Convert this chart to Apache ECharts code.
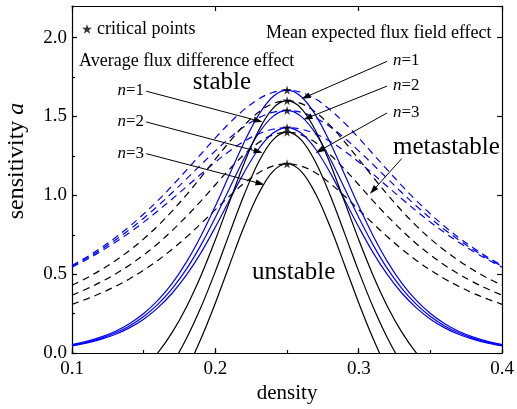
<!DOCTYPE html>
<html>
<head>
<meta charset="utf-8">
<script src="https://cdn.jsdelivr.net/npm/echarts@6/dist/echarts.min.js"></script>
<style>
html,body{margin:0;padding:0;background:#fff;}
#chart{width:517px;height:409px;}
</style>
</head>
<body>
<div id="chart"></div>
<script>
// density grid
var density = [0.10,0.11,0.12,0.13,0.14,0.15,0.16,0.17,0.18,0.19,0.20,0.21,0.22,0.23,0.24,0.25,0.26,0.27,0.28,0.29,0.30,0.31,0.32,0.33,0.34,0.35,0.36,0.37,0.38,0.39,0.40];

// Average flux difference effect (blue): neutral stability (solid) and coexistence (dashed)
var blueSolidN1 = [0.054,0.074,0.101,0.137,0.186,0.251,0.336,0.444,0.580,0.744,0.932,1.135,1.335,1.507,1.625,1.667,1.625,1.507,1.335,1.135,0.932,0.744,0.580,0.444,0.336,0.251,0.186,0.137,0.101,0.074,0.054];
var blueSolidN2 = [0.050,0.068,0.093,0.127,0.172,0.232,0.310,0.410,0.535,0.686,0.860,1.047,1.232,1.391,1.499,1.538,1.499,1.391,1.232,1.047,0.860,0.686,0.535,0.410,0.310,0.232,0.172,0.127,0.093,0.068,0.050];
var blueSolidN3 = [0.046,0.063,0.087,0.118,0.160,0.215,0.288,0.381,0.497,0.637,0.799,0.973,1.144,1.292,1.393,1.429,1.393,1.292,1.144,0.973,0.799,0.637,0.497,0.381,0.288,0.215,0.160,0.118,0.087,0.063,0.046];
var blueDashN1 = [0.555,0.607,0.666,0.730,0.802,0.882,0.968,1.062,1.161,1.262,1.364,1.459,1.543,1.610,1.652,1.667,1.652,1.610,1.543,1.459,1.364,1.262,1.161,1.062,0.968,0.882,0.802,0.730,0.666,0.607,0.555];
var blueDashN2 = [0.550,0.600,0.655,0.716,0.782,0.855,0.934,1.018,1.106,1.195,1.282,1.364,1.435,1.490,1.526,1.538,1.526,1.490,1.435,1.364,1.282,1.195,1.106,1.018,0.934,0.855,0.782,0.716,0.655,0.600,0.550];
var blueDashN3 = [0.545,0.592,0.644,0.701,0.763,0.830,0.902,0.978,1.056,1.135,1.211,1.281,1.342,1.389,1.419,1.429,1.419,1.389,1.342,1.281,1.211,1.135,1.056,0.978,0.902,0.830,0.763,0.701,0.644,0.592,0.545];

// Mean expected flux field effect (black)
var blackSolidN1 = [-0.335,-0.311,-0.279,-0.235,-0.177,-0.099,0.003,0.133,0.296,0.492,0.718,0.962,1.202,1.408,1.550,1.600,1.550,1.408,1.202,0.962,0.718,0.492,0.296,0.133,0.003,-0.099,-0.177,-0.235,-0.279,-0.311,-0.335];
var blackSolidN2 = [-0.535,-0.511,-0.479,-0.435,-0.377,-0.299,-0.197,-0.067,0.096,0.292,0.518,0.762,1.002,1.208,1.350,1.400,1.350,1.208,1.002,0.762,0.518,0.292,0.096,-0.067,-0.197,-0.299,-0.377,-0.435,-0.479,-0.511,-0.535];
var blackSolidN3 = [-0.735,-0.711,-0.679,-0.635,-0.577,-0.499,-0.397,-0.267,-0.104,0.092,0.318,0.562,0.802,1.008,1.150,1.200,1.150,1.008,0.802,0.562,0.318,0.092,-0.104,-0.267,-0.397,-0.499,-0.577,-0.635,-0.679,-0.711,-0.735];
var blackDashN1 = [0.430,0.475,0.526,0.584,0.650,0.724,0.808,0.902,1.005,1.115,1.229,1.341,1.443,1.526,1.581,1.600,1.581,1.526,1.443,1.341,1.229,1.115,1.005,0.902,0.808,0.724,0.650,0.584,0.526,0.475,0.430];
var blackDashN2 = [0.367,0.406,0.450,0.500,0.557,0.622,0.695,0.778,0.868,0.965,1.067,1.167,1.258,1.333,1.383,1.400,1.383,1.333,1.258,1.167,1.067,0.965,0.868,0.778,0.695,0.622,0.557,0.500,0.450,0.406,0.367];
var blackDashN3 = [0.309,0.342,0.379,0.422,0.470,0.526,0.589,0.659,0.737,0.821,0.909,0.996,1.076,1.142,1.185,1.200,1.185,1.142,1.076,0.996,0.909,0.821,0.737,0.659,0.589,0.526,0.470,0.422,0.379,0.342,0.309];

// critical points
var criticalX = [0.25,0.25,0.25,0.25,0.25,0.25];
var criticalY = [1.667,1.600,1.538,1.429,1.400,1.200];

var FONT = "'Liberation Serif','Times New Roman',serif";
var STAR = 'path://M50,0 L61.2,34.5 L97.6,34.5 L68.2,55.9 L79.4,90.5 L50,69.1 L20.6,90.5 L31.8,55.9 L2.4,34.5 L38.8,34.5 Z';
var BLUE = '#0000ff';

function pairs(ys){ return density.map(function(x,i){ return [x, ys[i]]; }); }
function lineSeries(name, ys, color, dashed){
  return {
    name: name, type: 'line', data: pairs(ys), smooth: 0.35, showSymbol: false, symbol: 'none',
    clip: true, silent: true, animation: false,
    lineStyle: { color: color, width: 1.2, type: dashed ? [7,5] : 'solid' },
    z: dashed ? 2 : 3
  };
}

var series = [
  lineSeries('bd1', blueDashN1, BLUE, true),
  lineSeries('bd2', blueDashN2, BLUE, true),
  lineSeries('bd3', blueDashN3, BLUE, true),
  lineSeries('kd1', blackDashN1, '#000', true),
  lineSeries('kd2', blackDashN2, '#000', true),
  lineSeries('kd3', blackDashN3, '#000', true),
  lineSeries('bs1', blueSolidN1, BLUE, false),
  lineSeries('bs2', blueSolidN2, BLUE, false),
  lineSeries('bs3', blueSolidN3, BLUE, false),
  lineSeries('ks1', blackSolidN1, '#000', false),
  lineSeries('ks2', blackSolidN2, '#000', false),
  lineSeries('ks3', blackSolidN3, '#000', false),
  {
    name: 'critical points', type: 'scatter', symbol: STAR, symbolSize: 9,
    itemStyle: { color: '#000' }, z: 10, animation: false, silent: true,
    data: criticalX.map(function(x,i){ return [x, criticalY[i]]; })
  },
  {
    name: 'arrows', type: 'line', data: [], silent: true, animation: false,
    markLine: {
      silent: true, animation: false, symbol: ['none','triangle'], symbolSize: [6,9],
      lineStyle: { color: '#000', width: 1, type: 'solid' },
      label: { show: false },
      data: [
        [{coord:[0.1518,1.660]},{coord:[0.2299,1.472]}],
        [{coord:[0.1518,1.465]},{coord:[0.2299,1.277]}],
        [{coord:[0.1518,1.264]},{coord:[0.2312,1.075]}],
        [{coord:[0.3197,1.849]},{coord:[0.2630,1.623]}],
        [{coord:[0.3197,1.692]},{coord:[0.2644,1.491]}],
        [{coord:[0.3197,1.522]},{coord:[0.2727,1.283]}],
        [{coord:[0.3300,1.233]},{coord:[0.3100,1.031]}]
      ]
    }
  }
];

var axisLineStyle = { color: '#000', width: 1.2 };
function txt(text, x, y, size, align, extra){
  var o = {
    type: 'text', x: x, y: y, silent: true, z: 100,
    style: {
      text: text, fontFamily: FONT, fontSize: size, fill: '#000',
      align: align || 'left', verticalAlign: 'middle',
      rich: { i: { fontFamily: FONT, fontSize: size, fontStyle: 'italic', fill: '#000' },
              r: { fontFamily: FONT, fontSize: size, fill: '#000' } }
    }
  };
  if (extra) for (var k in extra) o[k] = extra[k];
  return o;
}

var option = {
  backgroundColor: '#fff',
  animation: false,
  grid: { left: 72, right: 11, top: 6, bottom: 54, containLabel: false },
  legend: {
    data: [{ name: 'critical points', icon: STAR }],
    left: 77, top: 15, itemWidth: 10, itemHeight: 10, itemGap: 5,
    textStyle: { fontFamily: FONT, fontSize: 18, color: '#000' },
    selectedMode: false
  },
  xAxis: [
    { type: 'value', min: 0.1, max: 0.4, interval: 0.1, position: 'bottom',
      axisLine: { onZero: false, lineStyle: axisLineStyle },
      axisTick: { inside: true, length: 5, lineStyle: axisLineStyle },
      axisLabel: { margin: 6, fontFamily: FONT, fontSize: 19, color: '#000',
                   formatter: function(v){ return v.toFixed(1); } },
      splitLine: { show: false },
      name: 'density', nameLocation: 'middle', nameGap: 27,
      nameTextStyle: { fontFamily: FONT, fontSize: 21, color: '#000' } },
    { type: 'value', min: 0.1, max: 0.4, interval: 0.05, position: 'bottom',
      axisLine: { show: false, onZero: false }, axisTick: { inside: true, length: 3, lineStyle: axisLineStyle },
      axisLabel: { show: false }, splitLine: { show: false } },
    { type: 'value', min: 0.1, max: 0.4, interval: 0.1, position: 'top',
      axisLine: { onZero: false, lineStyle: axisLineStyle },
      axisTick: { inside: true, length: 5, lineStyle: axisLineStyle },
      axisLabel: { show: false }, splitLine: { show: false } }
  ],
  yAxis: [
    { type: 'value', min: 0, max: 2.2, interval: 0.5, position: 'left',
      axisLine: { show: true, onZero: false, lineStyle: axisLineStyle },
      axisTick: { show: true, inside: true, length: 5, lineStyle: axisLineStyle },
      axisLabel: { margin: 5, fontFamily: FONT, fontSize: 19, color: '#000', showMaxLabel: false,
                   formatter: function(v){ return (Math.abs(v*2 - Math.round(v*2)) < 1e-6) ? v.toFixed(1) : ''; } },
      splitLine: { show: false } },
    { type: 'value', min: 0, max: 2.2, interval: 0.25, position: 'left',
      axisLine: { show: false, onZero: false },
      axisTick: { show: true, inside: true, length: 3, lineStyle: axisLineStyle },
      axisLabel: { show: false }, splitLine: { show: false } },
    { type: 'value', min: 0, max: 2.2, interval: 0.5, position: 'right',
      axisLine: { show: true, onZero: false, lineStyle: axisLineStyle },
      axisTick: { show: true, inside: true, length: 5, lineStyle: axisLineStyle },
      axisLabel: { show: false }, splitLine: { show: false } }
  ],
  series: series,
  graphic: [
    txt('sensitivity {i|a}', 17, 161, 24, 'center', { rotation: Math.PI/2 }),
    txt('Average flux difference effect', 79, 61, 18),
    txt('Mean expected flux field effect', 266, 33, 18),
    txt('stable', 222, 82, 25, 'center'),
    txt('metastable', 393, 147, 25),
    txt('unstable', 252, 272, 25),
    txt('{i|n}=1', 144, 91, 17, 'right'),
    txt('{i|n}=2', 144, 122, 17, 'right'),
    txt('{i|n}=3', 144, 154, 17, 'right'),
    txt('{i|n}=1', 393, 61, 17),
    txt('{i|n}=2', 393, 86, 17),
    txt('{i|n}=3', 393, 113, 17)
  ]
};

var chart = echarts.init(document.getElementById('chart'), null, { renderer: 'canvas' });
chart.setOption(option);
</script>
</body>
</html>
